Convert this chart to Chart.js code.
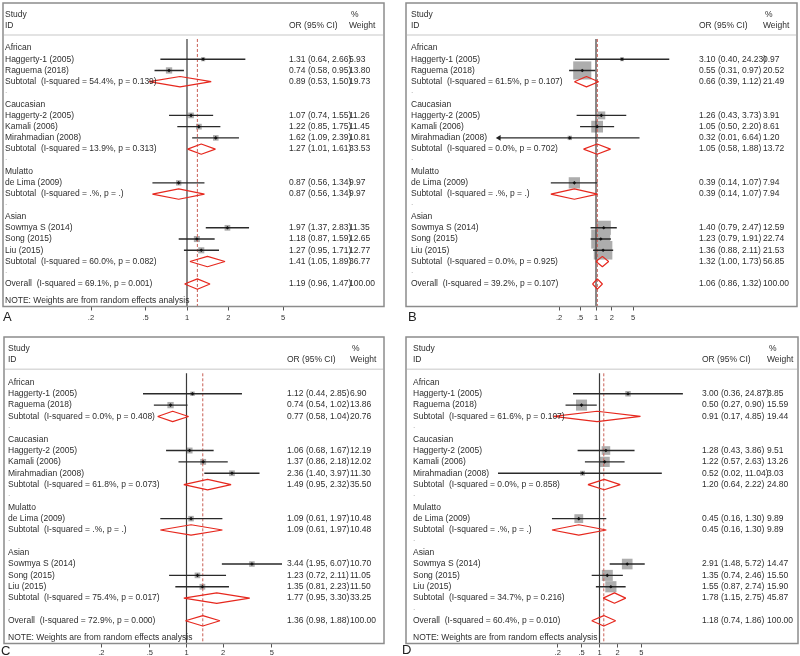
<!DOCTYPE html>
<html>
<head>
<meta charset="utf-8">
<title>Forest plots A-D</title>
<script src="https://cdn.jsdelivr.net/npm/chart.js@4.4.1/dist/chart.umd.min.js"></script>
<style>
  html, body { margin: 0; padding: 0; background: #fff; overflow: hidden; }
  #wrap { position: relative; width: 800px; height: 656px; overflow: hidden; }
  canvas { position: absolute; }
</style>
</head>
<body>
<div id="wrap">
  <canvas id="panelA" width="400" height="326" style="left:0;top:0"></canvas>
  <canvas id="panelB" width="400" height="326" style="left:400px;top:0"></canvas>
  <canvas id="panelC" width="400" height="335" style="left:0;top:326px"></canvas>
  <canvas id="panelD" width="400" height="335" style="left:400px;top:326px"></canvas>
</div>
<script>
/* ---- shared labels ---- */
const groups = ['African', 'Caucasian', 'Mulatto', 'Asian'];
const studies = ['Haggerty-1 (2005)', 'Raguema (2018)', 'Haggerty-2 (2005)', 'Kamali (2006)',
  'Mirahmadian (2008)', 'de Lima (2009)', 'Sowmya S (2014)', 'Song (2015)', 'Liu (2015)'];
const studyGroup = [0, 0, 1, 1, 1, 2, 3, 3, 3];
const axisTicks = [0.2, 0.5, 1, 2, 5];

/* ---- panel A ---- */
const orA = [1.31, 0.74, 1.07, 1.22, 1.62, 0.87, 1.97, 1.18, 1.27];
const lowA = [0.64, 0.58, 0.74, 0.85, 1.09, 0.56, 1.37, 0.87, 0.95];
const highA = [2.66, 0.95, 1.55, 1.75, 2.39, 1.34, 2.83, 1.59, 1.71];
const weightA = [5.93, 13.80, 11.26, 11.45, 10.81, 9.97, 11.35, 12.65, 12.77];
const subOrA = [0.89, 1.27, 0.87, 1.41];
const subLowA = [0.53, 1.01, 0.56, 1.05];
const subHighA = [1.50, 1.61, 1.34, 1.89];
const subWeightA = [19.73, 33.53, 9.97, 36.77];
const subI2A = ['54.4%', '13.9%', '.%', '60.0%'];
const subPA = ['0.139', '0.313', '.', '0.082'];
const overallA = [1.19, 0.96, 1.47];
const overallHetA = ['69.1%', '0.001'];
const rangeA = [0.2, 5];

/* ---- panel B ---- */
const orB = [3.10, 0.55, 1.26, 1.05, 0.32, 0.39, 1.40, 1.23, 1.36];
const lowB = [0.40, 0.31, 0.43, 0.50, 0.01, 0.14, 0.79, 0.79, 0.88];
const highB = [24.23, 0.97, 3.73, 2.20, 6.64, 1.07, 2.47, 1.91, 2.11];
const weightB = [0.97, 20.52, 3.91, 8.61, 1.20, 7.94, 12.59, 22.74, 21.53];
const subOrB = [0.66, 1.05, 0.39, 1.32];
const subLowB = [0.39, 0.58, 0.14, 1.00];
const subHighB = [1.12, 1.88, 1.07, 1.73];
const subWeightB = [21.49, 13.72, 7.94, 56.85];
const subI2B = ['61.5%', '0.0%', '.%', '0.0%'];
const subPB = ['0.107', '0.702', '.', '0.925'];
const overallB = [1.06, 0.86, 1.32];
const overallHetB = ['39.2%', '0.107'];
const rangeB = [0.0147, 68];

/* ---- panel C ---- */
const orC = [1.12, 0.74, 1.06, 1.37, 2.36, 1.09, 3.44, 1.23, 1.35];
const lowC = [0.44, 0.54, 0.68, 0.86, 1.40, 0.61, 1.95, 0.72, 0.81];
const highC = [2.85, 1.02, 1.67, 2.18, 3.97, 1.97, 6.07, 2.11, 2.23];
const weightC = [6.90, 13.86, 12.19, 12.02, 11.30, 10.48, 10.70, 11.05, 11.50];
const subOrC = [0.77, 1.49, 1.09, 1.77];
const subLowC = [0.58, 0.95, 0.61, 0.95];
const subHighC = [1.04, 2.32, 1.97, 3.30];
const subWeightC = [20.76, 35.50, 10.48, 33.25];
const subI2C = ['0.0%', '61.8%', '.%', '75.4%'];
const subPC = ['0.408', '0.073', '.', '0.017'];
const overallC = [1.36, 0.98, 1.88];
const overallHetC = ['72.9%', '0.000'];
const rangeC = [0.1648, 6.07];

/* ---- panel D ---- */
const orD = [3.00, 0.50, 1.28, 1.22, 0.52, 0.45, 2.91, 1.35, 1.55];
const lowD = [0.36, 0.27, 0.43, 0.57, 0.02, 0.16, 1.48, 0.74, 0.87];
const highD = [24.87, 0.90, 3.86, 2.63, 11.04, 1.30, 5.72, 2.46, 2.74];
const weightD = [3.85, 15.59, 9.51, 13.26, 3.03, 9.89, 14.47, 15.50, 15.90];
const subOrD = [0.91, 1.20, 0.45, 1.78];
const subLowD = [0.17, 0.64, 0.16, 1.15];
const subHighD = [4.85, 2.22, 1.30, 2.75];
const subWeightD = [19.44, 24.80, 9.89, 45.87];
const subI2D = ['61.6%', '0.0%', '.%', '34.7%'];
const subPD = ['0.107', '0.858', '.', '0.216'];
const overallD = [1.18, 0.74, 1.86];
const overallHetD = ['60.4%', '0.010'];
const rangeD = [0.02, 50];

const FONT = '"Liberation Sans", Arial, sans-serif';
const TEXT = '#2e2e2e';

// row index of every line of the table (African = 0, Overall = 21)
function layoutRows() {
    const studyRow = [], subRow = [], groupRow = [], dotRow = [];
    let r = 0;
    groups.forEach((g, gi) => {
        groupRow.push(r++);
        studyGroup.forEach((sg, si) => { if (sg === gi) studyRow[si] = r++; });
        subRow.push(r++);
        dotRow.push(r++);
    });
    return { studyRow, subRow, groupRow, dotRow, overallRow: r, noteRow: r + 1.5 };
}
const ROWS = layoutRows();

const fmtCI = (e, l, h) => `${e.toFixed(2)} (${l.toFixed(2)}, ${h.toFixed(2)})`;

const panels = [
    { id: 'panelA', letter: 'A', or: orA, low: lowA, high: highA, weight: weightA,
      subOr: subOrA, subLow: subLowA, subHigh: subHighA, subWeight: subWeightA, subI2: subI2A, subP: subPA,
      overall: overallA, het: overallHetA, range: rangeA, note: true,
      pad: { left: 91, right: 117, top: 3, bottom: 1.5 }, tickPad: 2.5, box: [3, 384], cols: [5, 289, 349],
      boxScale: 1.7, letterPos: [3, 317] },
    { id: 'panelB', letter: 'B', or: orB, low: lowB, high: highB, weight: weightB,
      subOr: subOrB, subLow: subLowB, subHigh: subHighB, subWeight: subWeightB, subI2: subI2B, subP: subPB,
      overall: overallB, het: overallHetB, range: rangeB, note: false,
      pad: { left: 99, right: 107, top: 3, bottom: 1.5 }, tickPad: 2.5, box: [6, 397], cols: [11, 299, 363],
      boxScale: 4, letterPos: [8, 317] },
    { id: 'panelC', letter: 'C', or: orC, low: lowC, high: highC, weight: weightC,
      subOr: subOrC, subLow: subLowC, subHigh: subHighC, subWeight: subWeightC, subI2: subI2C, subP: subPC,
      overall: overallC, het: overallHetC, range: rangeC, note: true,
      pad: { left: 91, right: 118, top: 11, bottom: 3.5 }, tickPad: 0.5, box: [4, 384], cols: [8, 287, 350],
      boxScale: 1.7, letterPos: [1, 325] },
    { id: 'panelD', letter: 'D', or: orD, low: lowD, high: highD, weight: weightD,
      subOr: subOrD, subLow: subLowD, subHigh: subHighD, subWeight: subWeightD, subI2: subI2D, subP: subPD,
      overall: overallD, het: overallHetD, range: rangeD, note: true,
      pad: { left: 98, right: 99, top: 11, bottom: 3.5 }, tickPad: 0.5, box: [6, 398], cols: [13, 302, 367],
      boxScale: 2.8, letterPos: [2, 324] }
];

function tablePlugin(p) {
    return {
        id: 'forestTable',
        afterDatasetsDraw(chart) {
            const { ctx, chartArea: ca } = chart;
            const y = chart.scales.y;
            const [bx0, bx1] = p.box;
            const [cLab, cOr, cW] = p.cols;
            ctx.save();

            // frame and header rule
            ctx.strokeStyle = '#8c8c8c';
            ctx.lineWidth = 1.5;
            ctx.strokeRect(bx0, ca.top, bx1 - bx0, ca.bottom - ca.top);
            const hy = y.getPixelForValue(-1.16);
            ctx.strokeStyle = '#dadada';
            ctx.beginPath();
            ctx.moveTo(bx0 + 1, hy);
            ctx.lineTo(bx1 - 1, hy);
            ctx.stroke();

            ctx.font = `8.5px ${FONT}`;
            ctx.fillStyle = TEXT;
            ctx.textBaseline = 'middle';
            ctx.textAlign = 'left';
            const put = (s, x, row) => ctx.fillText(s, x, y.getPixelForValue(row));

            put('Study', cLab, -3);
            put('ID', cLab, -2);
            put('OR (95% CI)', cOr, -2);
            put('%', cW + 2, -3);
            put('Weight', cW, -2);

            groups.forEach((g, gi) => {
                put(g, cLab, ROWS.groupRow[gi]);
                const r = ROWS.subRow[gi];
                put(`Subtotal  (I-squared = ${p.subI2[gi]}, p = ${p.subP[gi]})`, cLab, r);
                put(fmtCI(p.subOr[gi], p.subLow[gi], p.subHigh[gi]), cOr, r);
                put(p.subWeight[gi].toFixed(2), cW, r);
            });
            studies.forEach((s, i) => {
                const r = ROWS.studyRow[i];
                put(s, cLab, r);
                put(fmtCI(p.or[i], p.low[i], p.high[i]), cOr, r);
                put(p.weight[i].toFixed(2), cW, r);
            });
            const ro = ROWS.overallRow;
            put(`Overall  (I-squared = ${p.het[0]}, p = ${p.het[1]})`, cLab, ro);
            put(fmtCI(p.overall[0], p.overall[1], p.overall[2]), cOr, ro);
            put('100.00', cW, ro);
            if (p.note) put('NOTE: Weights are from random effects analysis', cLab, ROWS.noteRow);

            ctx.fillStyle = '#b5b5b5';
            ROWS.dotRow.forEach(r => put('.', cLab, r - 0.2));

            ctx.fillStyle = '#222';
            ctx.font = `13px ${FONT}`;
            ctx.fillText(p.letter, p.letterPos[0], p.letterPos[1]);
            ctx.restore();
        }
    };
}

function makeChart(p) {
    const [xMin, xMax] = p.range;
    const ci = [], marks = [], arrows = [], diamonds = [];
    p.or.forEach((v, i) => {
        const y = ROWS.studyRow[i];
        const lo = Math.max(p.low[i], xMin);
        const hi = Math.min(p.high[i], xMax);
        ci.push({ x: lo, y }, { x: hi, y }, { x: hi, y: null });
        marks.push({ x: v, y });
        if (p.low[i] < xMin) arrows.push({ x: xMin, y });
    });
    const dh = 0.46;
    const addDiamond = (e, lo, hi, y) => {
        diamonds.push({ x: lo, y }, { x: e, y: y - dh }, { x: hi, y }, { x: e, y: y + dh },
            { x: lo, y }, { x: lo, y: null });
    };
    p.subOr.forEach((e, gi) => addDiamond(e, p.subLow[gi], p.subHigh[gi], ROWS.subRow[gi]));
    addDiamond(p.overall[0], p.overall[1], p.overall[2], ROWS.overallRow);

    const radii = p.weight.map(w => p.boxScale * Math.sqrt(w) / Math.SQRT2);
    const top = -0.8, bottom = 23;

    return new Chart(document.getElementById(p.id), {
        type: 'scatter',
        data: {
            datasets: [
                { data: marks, pointStyle: 'rectRot', pointRadius: 1.8, backgroundColor: '#111', borderWidth: 0, clip: false },
                { data: arrows, pointStyle: 'triangle', rotation: -90, pointRadius: 3.2, backgroundColor: '#222', borderWidth: 0, clip: false },
                { data: diamonds, showLine: true, spanGaps: false, borderColor: 'rgb(230,40,30)', borderWidth: 1.2,
                  borderJoinStyle: 'bevel', pointRadius: 0, fill: false },
                { data: ci, showLine: true, spanGaps: false, borderColor: '#2a2a2a', borderWidth: 1.4, pointRadius: 0 },
                { data: [{ x: p.overall[0], y: top }, { x: p.overall[0], y: bottom }], showLine: true,
                  borderColor: 'rgb(200,95,85)', borderDash: [3, 2], borderWidth: 1, pointRadius: 0 },
                { data: [{ x: 1, y: top }, { x: 1, y: bottom }], showLine: true,
                  borderColor: '#3a3a3a', borderWidth: 1.2, pointRadius: 0 },
                { data: marks, pointStyle: 'rect', pointRadius: radii, backgroundColor: '#adadad', borderWidth: 0, clip: false }
            ]
        },
        options: {
            responsive: false,
            animation: false,
            devicePixelRatio: 1,
            events: [],
            layout: { padding: p.pad, autoPadding: false },
            plugins: { legend: { display: false }, tooltip: { enabled: false } },
            scales: {
                x: {
                    type: 'logarithmic',
                    min: xMin,
                    max: xMax,
                    afterBuildTicks: s => { s.ticks = axisTicks.map(v => ({ value: v })); },
                    grid: { display: true, drawOnChartArea: false, drawTicks: true, tickLength: 4, color: '#555', lineWidth: 1 },
                    border: { display: false },
                    ticks: {
                        autoSkip: false,
                        maxRotation: 0,
                        padding: p.tickPad,
                        color: '#333',
                        font: { family: FONT, size: 7.5, lineHeight: 1.2 },
                        callback: v => (v < 1 ? String(v).slice(1) : String(v))
                    }
                },
                y: { type: 'linear', reverse: true, min: -4, max: 23, display: false }
            }
        },
        plugins: [tablePlugin(p)]
    });
}

panels.forEach(makeChart);
</script>
</body>
</html>
